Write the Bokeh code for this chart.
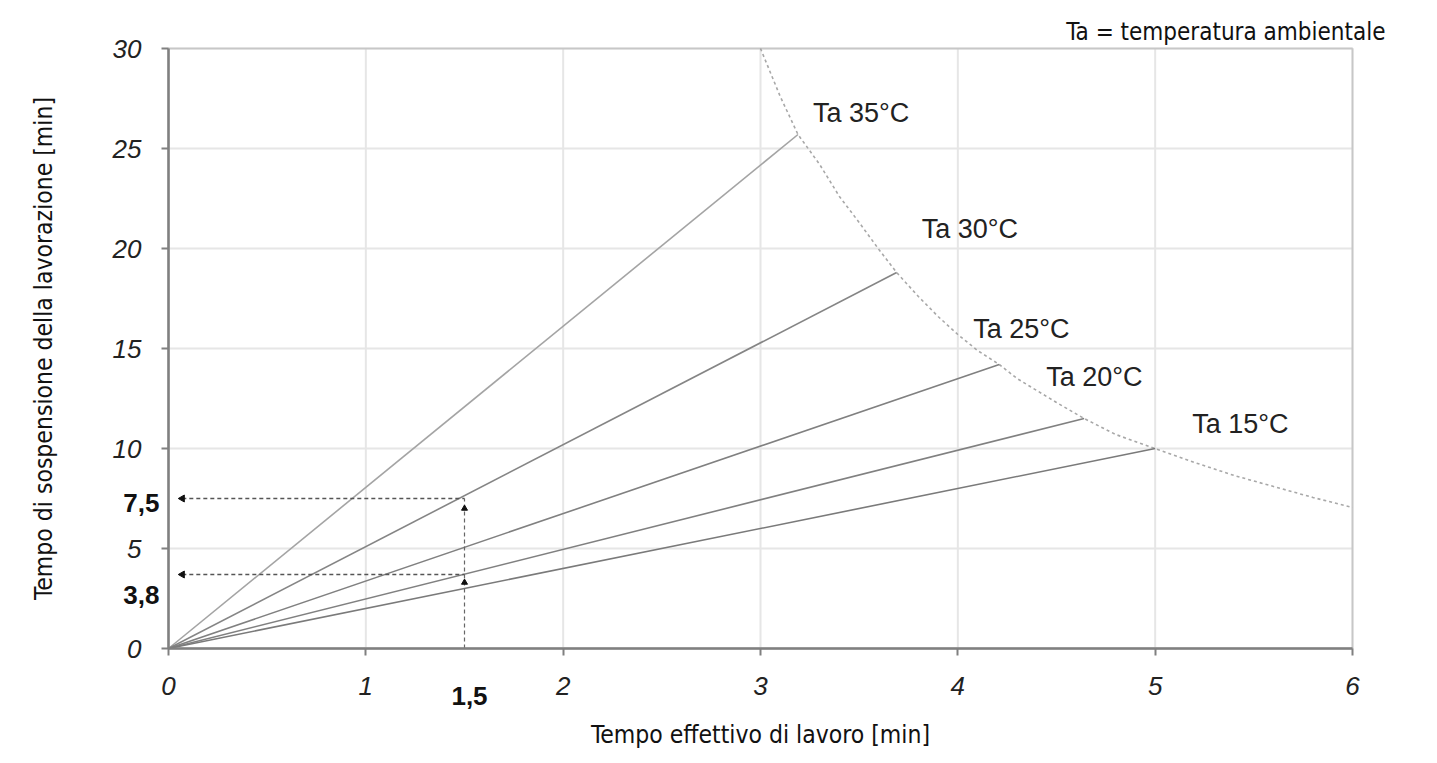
from bokeh.plotting import figure
from bokeh.models import FixedTicker, Label, Range1d, BoxAnnotation
from bokeh.embed import file_html
from bokeh.resources import INLINE

# ---- data ----
temps = ["Ta 35°C", "Ta 30°C", "Ta 25°C", "Ta 20°C", "Ta 15°C"]
end_x = [3.19, 3.69, 4.21, 4.64, 5.0]
end_y = [25.7, 18.8, 14.2, 11.5, 10.0]

curve_x = [3.0, 3.1, 3.19, 3.3, 3.4, 3.5, 3.6, 3.69, 3.8, 3.9, 4.0, 4.1,
           4.21, 4.3, 4.4, 4.5, 4.64, 4.8, 5.0, 5.2, 5.4, 5.6, 5.8, 6.0]
curve_y = [30.0, 27.6, 25.7, 24.2, 22.6, 21.3, 19.95, 18.8, 17.6, 16.6, 15.7, 14.9,
           14.2, 13.5, 12.9, 12.3, 11.5, 10.7, 10.0, 9.3, 8.65, 8.1, 7.55, 7.05]

read_x = 1.5
read_y = [7.5, 3.7]
read_x_label = "1,5"
read_y_labels = ["7,5", "3,8"]
read_y_values = [7.5, 3.8]
arrow_up_y = [7.0, 3.3]

x_ticks = [0, 1, 2, 3, 4, 5, 6]
y_ticks = [0, 5, 10, 15, 20, 25, 30]

title_text = "Ta = temperatura ambientale"
x_title = "Tempo effettivo di lavoro [min]"
y_title = "Tempo di sospensione della lavorazione [min]"

NARROW = "'Liberation Sans Narrow', 'DejaVu Sans Condensed', sans-serif"
SANS = "Liberation Sans"

# ---- canvas geometry: the frame fills the canvas, axes sit on the zero lines ----
W, H = 1429, 758
ORIGIN_X_PX, ORIGIN_Y_PX = 168, 648
PX_PER_X = (1352 - 168) / 6.0
PX_PER_Y = 600 / 30.0
x_lo, x_hi = min(x_ticks), max(x_ticks)
y_lo, y_hi = min(y_ticks), max(y_ticks)

p = figure(width=W, height=H, output_backend="svg", toolbar_location=None,
           x_range=Range1d(-ORIGIN_X_PX / PX_PER_X, (W - ORIGIN_X_PX) / PX_PER_X),
           y_range=Range1d(-(H - ORIGIN_Y_PX) / PX_PER_Y, ORIGIN_Y_PX / PX_PER_Y),
           min_border=0, min_border_left=0, min_border_right=0,
           min_border_top=0, min_border_bottom=0)
p.background_fill_color = "white"
p.border_fill_color = "white"
p.outline_line_color = None
p.xgrid.visible = False
p.ygrid.visible = False

# grid lines restricted to the plotting area
p.segment(x0=x_ticks, y0=[y_lo] * len(x_ticks), x1=x_ticks, y1=[y_hi] * len(x_ticks),
          line_color="#e6e6e6", line_width=2)
p.segment(x0=[x_lo] * len(y_ticks), y0=y_ticks, x1=[x_hi] * len(y_ticks), y1=y_ticks,
          line_color="#e6e6e6", line_width=2)

# plot-area border
p.add_layout(BoxAnnotation(left=x_lo, right=x_hi, bottom=y_lo, top=y_hi,
                           fill_alpha=0, line_color="#808080", line_width=2))

xa = p.xaxis[0]
ya = p.yaxis[0]
xa.fixed_location = 0
ya.fixed_location = 0
xa.bounds = (x_lo, x_hi)
ya.bounds = (y_lo, y_hi)
xa.ticker = FixedTicker(ticks=x_ticks)
ya.ticker = FixedTicker(ticks=y_ticks)

for ax in (xa, ya):
    ax.axis_line_color = "#808080"
    ax.axis_line_width = 2.5
    ax.major_tick_line_color = "#808080"
    ax.major_tick_line_width = 2
    ax.major_tick_out = 7
    ax.major_tick_in = 0
    ax.minor_tick_line_color = None
    ax.major_label_text_font = SANS
    ax.major_label_text_font_style = "italic"
    ax.major_label_text_font_size = "26px"
    ax.major_label_text_color = "#222222"
    ax.axis_label_text_font = NARROW
    ax.axis_label_text_font_style = "normal"
    ax.axis_label_text_font_size = "24.5px"
    ax.axis_label_text_color = "#111111"

xa.axis_label = x_title
ya.axis_label = y_title
xa.major_label_standoff = 21
xa.axis_label_standoff = 22
ya.major_label_standoff = 20
ya.axis_label_standoff = 52

# boundary curve (dotted)
p.line(curve_x, curve_y, line_color="#a8a8a8", line_width=1.6, line_dash="3 3")

# temperature lines from origin
line_colors = ["#a4a4a4", "#858585", "#808080", "#808080", "#7a7a7a"]
for ex, ey, c in zip(end_x, end_y, line_colors):
    p.line([0, ex], [0, ey], line_color=c, line_width=1.6)

# labels for temperatures
offsets = [(15, 22), (25, 44), (-26, 36), (-38, 42), (37, 25)]
for t, ex, ey, (dx, dy) in zip(temps, end_x, end_y, offsets):
    p.add_layout(Label(x=ex, y=ey, x_offset=dx, y_offset=dy, text=t,
                       text_font=SANS, text_font_size="27px",
                       text_color="#222222", text_baseline="middle",
                       text_align="left"))

# reading construction lines
p.line([read_x, read_x], [0, max(read_y)], line_color="#666666",
       line_width=1.2, line_dash="4 3")
for ry in read_y:
    p.line([0.07, read_x], [ry, ry], line_color="#555555", line_width=1.3,
           line_dash="4 3")
p.scatter([0.07] * len(read_y), read_y, marker="triangle", size=7,
          angle=1.5708, color="#111111")
p.scatter([read_x] * len(arrow_up_y), arrow_up_y, marker="triangle", size=6,
          color="#111111")

# bold reading values next to the axes
p.add_layout(Label(x=read_x, y=0, x_offset=5, y_offset=-47, text=read_x_label,
                   text_font=SANS, text_font_style="bold", text_font_size="26px",
                   text_color="#111111", text_align="center",
                   text_baseline="middle"))
for ry, txt, dy in zip(read_y_values, read_y_labels, [-4, -22]):
    p.add_layout(Label(x=0, y=ry, x_offset=-9, y_offset=dy, text=txt,
                       text_font=SANS, text_font_style="bold",
                       text_font_size="26px", text_color="#111111",
                       text_align="right", text_baseline="middle"))

# note at top right
p.add_layout(Label(x=x_hi, y=y_hi, x_offset=33, y_offset=17, text=title_text,
                   text_font=NARROW, text_font_size="24px", text_color="#111111",
                   text_align="right", text_baseline="middle"))

open("out.html", "w").write(file_html(p, INLINE))
